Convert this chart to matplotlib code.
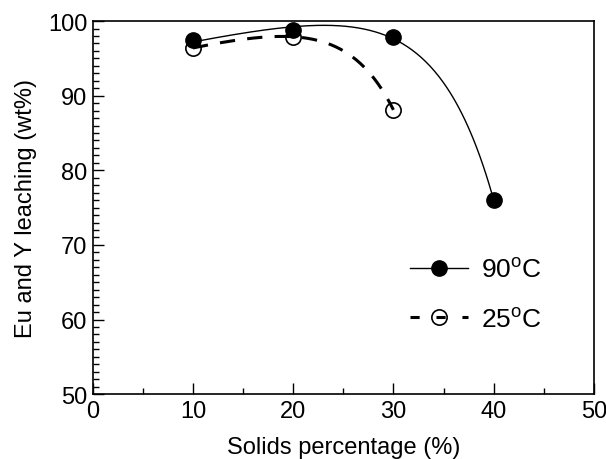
import matplotlib
matplotlib.use('Agg')
import matplotlib.pyplot as plt
from matplotlib.lines import Line2D
from matplotlib.ticker import MultipleLocator
import numpy as np

plt.rcParams['font.family'] = ['Liberation Sans', 'DejaVu Sans']

solids = [10, 20, 30, 40]
leach_90 = [97.4, 98.8, 97.9, 76.0]
solids_25 = [10, 20, 30]
leach_25 = [96.4, 97.9, 88.1]


def trend(x, y, k):
    # least squares fit of a + b*x + c*exp(k*x)
    x = np.asarray(x, float)
    A = np.column_stack([np.ones_like(x), x, np.exp(k * x)])
    coef = np.linalg.lstsq(A, np.asarray(y, float), rcond=None)[0]
    xs = np.linspace(x.min(), x.max(), 200)
    return xs, coef[0] + coef[1] * xs + coef[2] * np.exp(k * xs)


fig = plt.figure(figsize=(6.06, 4.6), dpi=100)
ax = fig.add_axes([0.153, 0.141, 0.827, 0.811])

xs, ys = trend(solids, leach_90, 0.17)
ax.plot(xs, ys, color='black', lw=1.0)
xs2, ys2 = trend(solids_25, leach_25, 0.2)
ax.plot(xs2, ys2, color='black', lw=2.2, dashes=(5, 4))

ax.plot(solids, leach_90, 'o', color='black', ms=11, zorder=3)
ax.plot(solids_25, leach_25, 'o', mfc='none', mec='black', mew=1.2, ms=11, zorder=3)

ax.set_xlim(0, 50)
ax.set_ylim(50, 100)
ax.xaxis.set_major_locator(MultipleLocator(10))
ax.xaxis.set_minor_locator(MultipleLocator(5))
ax.yaxis.set_major_locator(MultipleLocator(10))
ax.yaxis.set_minor_locator(MultipleLocator(1))
ax.tick_params(which='both', direction='in', labelsize=17, top=False, right=False)
ax.tick_params(which='major', length=8, width=1, pad=4)
ax.tick_params(which='minor', length=4, width=1)
for s in ax.spines.values():
    s.set_linewidth(1.2)

ax.set_xlabel('Solids percentage (%)', fontsize=17, labelpad=10)
ax.set_ylabel('Eu and Y leaching (wt%)', fontsize=17, labelpad=8)

h90 = Line2D([], [], color='black', lw=1.0, marker='o', ms=11)
h25 = Line2D([], [], color='black', lw=2.2, dashes=(3, 5.5), marker='o',
             mfc='none', mec='black', mew=1.2, ms=11)
ax.legend([h90, h25], ['90$^{\\mathregular{o}}$C', '25$^{\\mathregular{o}}$C'],
          loc='upper left', bbox_to_anchor=(0.585, 0.43), frameon=False,
          fontsize=19, handlelength=2.2, labelspacing=0.94, handletextpad=0.5)

fig.savefig('out.png', dpi=100)
